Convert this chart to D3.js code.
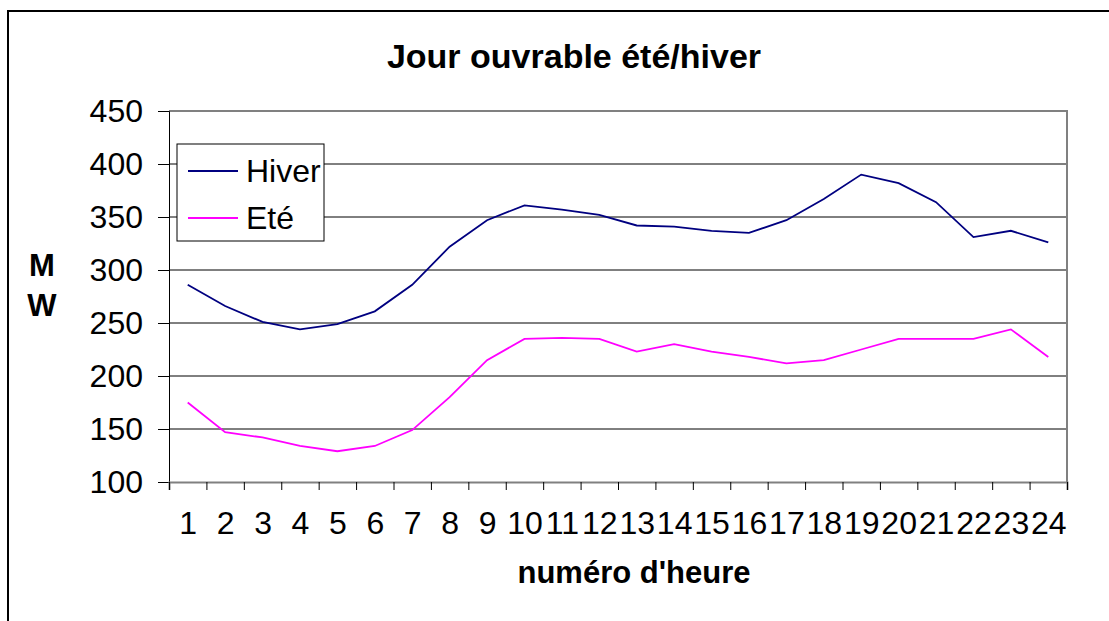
<!DOCTYPE html>
<html>
<head>
<meta charset="utf-8">
<script src="https://cdn.jsdelivr.net/npm/d3@7"></script>
<style>
  body { margin: 0; background: #fff; }
  svg { display: block; font-family: "Liberation Sans", Arial, sans-serif; }
</style>
</head>
<body>
<svg id="chart" width="1109" height="621"></svg>
<script>
// heures 1..24
const heures = d3.range(1, 25);
// consommation jour ouvrable (MW)
const hiver = [286, 266, 251, 244, 249, 261, 286, 322, 347, 361, 357, 352,
               342, 341, 337, 335, 347, 367, 390, 382, 364, 331, 337, 326];
const ete = [175, 147, 142, 134, 129, 134, 149, 180, 215, 235, 236, 235,
             223, 230, 223, 218, 212, 215, 225, 235, 235, 235, 244, 218];
const yTicks = [100, 150, 200, 250, 300, 350, 400, 450];
const series = [
  { name: 'Hiver', values: hiver, color: '#000080' },
  { name: 'Eté', values: ete, color: '#ff00ff' }
];

const svg = d3.select('#chart');
const plotLeft = 169, plotRight = 1067, plotTop = 111, plotBottom = 482;
const tickFont = 32;

// cadre extérieur
svg.append('rect')
  .attr('x', 8).attr('y', 11)
  .attr('width', 1200).attr('height', 700)
  .attr('fill', 'none').attr('stroke', '#000').attr('stroke-width', 2);

const x = d3.scaleLinear().domain([0.5, 24.5]).range([plotLeft, plotRight]);
const y = d3.scaleLinear().domain([100, 450]).range([plotBottom, plotTop]);

// grille
svg.append('g')
  .selectAll('line')
  .data(yTicks.slice(1, -1))
  .join('line')
  .attr('x1', plotLeft).attr('x2', plotRight)
  .attr('y1', d => y(d)).attr('y2', d => y(d))
  .attr('stroke', '#000').attr('stroke-width', 1);

// bord du graphique (haut / droite)
svg.append('path')
  .attr('d', `M${plotLeft},${y(450)}H${plotRight}V${plotBottom}`)
  .attr('fill', 'none').attr('stroke', '#808080').attr('stroke-width', 2);

// axe Y
const yAxis = svg.append('g')
  .attr('transform', `translate(${plotLeft},0)`)
  .call(d3.axisLeft(y).tickValues(yTicks).tickSize(11).tickPadding(15));
yAxis.select('.domain').attr('stroke', '#000');
yAxis.selectAll('text').attr('font-size', tickFont).attr('fill', '#000')
  .attr('font-family', '"Liberation Sans", Arial, sans-serif');

// axe X : graduations entre les catégories
const xAxis = svg.append('g')
  .attr('transform', `translate(0,${plotBottom})`)
  .call(d3.axisBottom(x).tickValues(d3.range(0.5, 25, 1)).tickSize(8).tickFormat(''));
xAxis.select('.domain').attr('stroke', '#808080').attr('stroke-width', 2);

// étiquettes X au centre des catégories
const xLabels = svg.append('g')
  .attr('transform', `translate(0,${plotBottom})`)
  .call(d3.axisBottom(x).tickValues(heures).tickSize(0).tickPadding(29).tickFormat(d3.format('d')));
xLabels.select('.domain').remove();
xLabels.selectAll('text').attr('font-size', tickFont).attr('fill', '#000')
  .attr('font-family', '"Liberation Sans", Arial, sans-serif');

// courbes
const line = d3.line()
  .x((d, i) => x(heures[i]))
  .y(d => y(d));

svg.append('g')
  .selectAll('path')
  .data(series)
  .join('path')
  .attr('d', d => line(d.values))
  .attr('fill', 'none')
  .attr('stroke', d => d.color)
  .attr('stroke-width', 1.8);

// titres
svg.append('text')
  .attr('x', 574).attr('y', 68)
  .attr('text-anchor', 'middle')
  .attr('font-size', 34).attr('font-weight', 'bold')
  .text('Jour ouvrable été/hiver');

svg.append('text')
  .attr('x', 634).attr('y', 583)
  .attr('text-anchor', 'middle')
  .attr('font-size', 31).attr('font-weight', 'bold')
  .text("numéro d'heure");

svg.append('text')
  .attr('x', 42).attr('y', 276)
  .attr('text-anchor', 'middle')
  .attr('font-size', 31).attr('font-weight', 'bold')
  .text('M');
svg.append('text')
  .attr('x', 42).attr('y', 316)
  .attr('text-anchor', 'middle')
  .attr('font-size', 31).attr('font-weight', 'bold')
  .text('W');

// légende
const legend = svg.append('g').attr('transform', 'translate(177,144)');
legend.append('rect')
  .attr('width', 147).attr('height', 97)
  .attr('fill', '#fff').attr('stroke', '#000').attr('stroke-width', 1);
const items = legend.selectAll('g.item')
  .data(series)
  .join('g')
  .attr('class', 'item')
  .attr('transform', (d, i) => `translate(0,${27 + i * 47})`);
items.append('line')
  .attr('x1', 11).attr('x2', 61)
  .attr('stroke', d => d.color).attr('stroke-width', 1.8);
items.append('text')
  .attr('x', 69).attr('y', 11)
  .attr('font-size', tickFont)
  .text(d => d.name);
</script>
</body>
</html>
